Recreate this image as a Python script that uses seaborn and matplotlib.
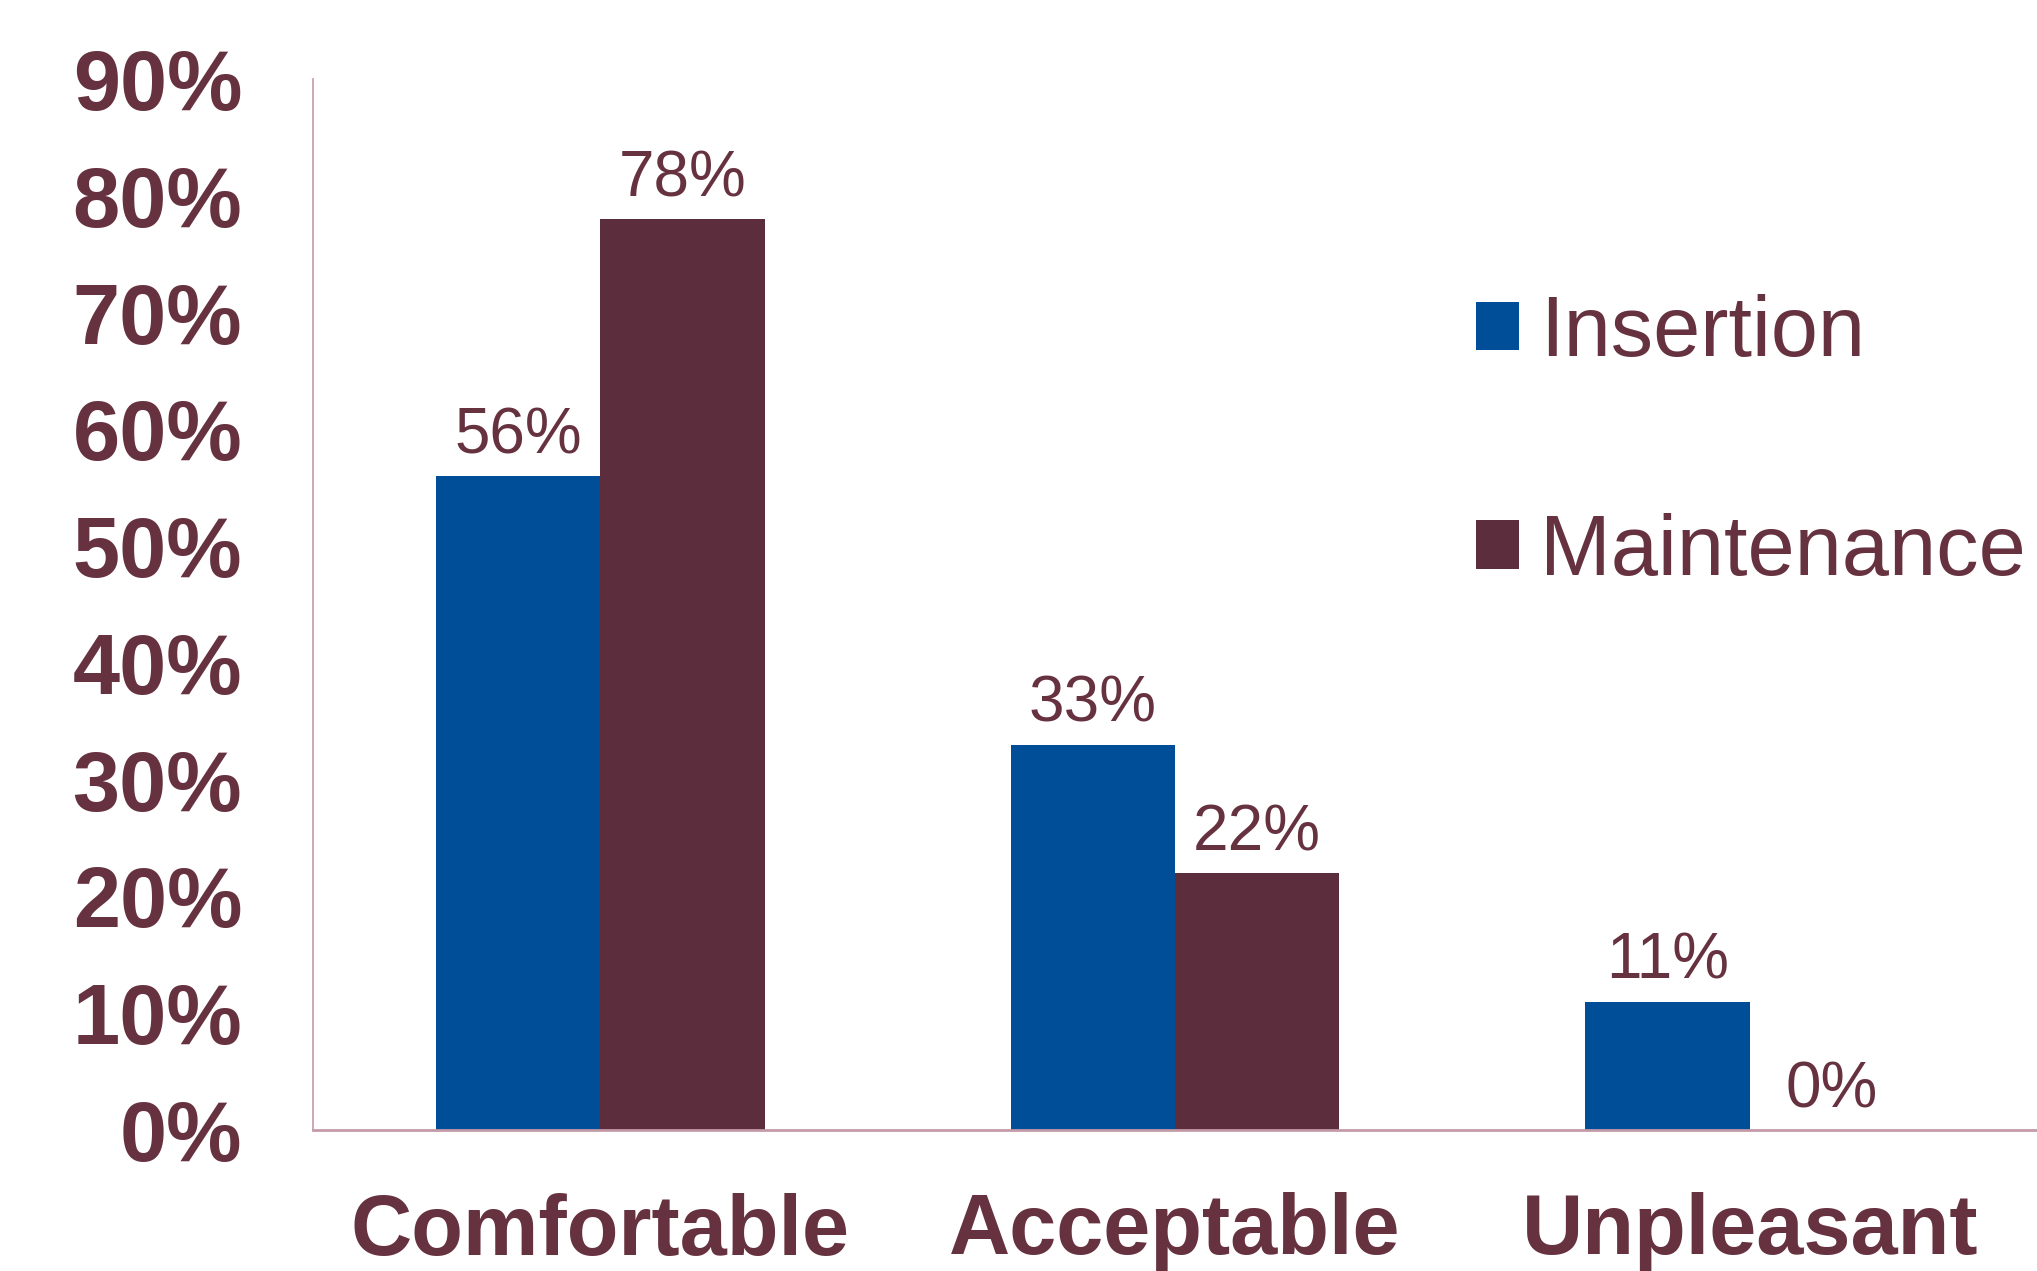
import matplotlib
matplotlib.use("Agg")
import matplotlib.pyplot as plt
from matplotlib.patches import Patch
from matplotlib.ticker import PercentFormatter
import seaborn as sns
import pandas as pd

# Comfort ratings reported for each procedure
categories = ["Comfortable", "Acceptable", "Unpleasant"]
insertion = [0.56, 0.33, 0.11]
maintenance = [0.78, 0.22, 0.00]
series_names = ["Insertion", "Maintenance"]
y_ticks = [0.0, 0.1, 0.2, 0.3, 0.4, 0.5, 0.6, 0.7, 0.8, 0.9]

BLUE = "#004E98"
MAROON = "#5C2D3C"
TEXT = "#67323F"
SPINE = "#C49AA9"

df = pd.DataFrame({
    "category": categories * 2,
    "series": [series_names[0]] * 3 + [series_names[1]] * 3,
    "share": insertion + maintenance,
})

sns.set_theme(style="white")
plt.rcParams["font.family"] = ["Liberation Sans", "DejaVu Sans"]

fig = plt.figure(figsize=(20.37, 12.71), dpi=100)
ax = fig.add_axes([313 / 2037, 1 - 1130 / 1271, 1 - 313 / 2037, (1130 - 79) / 1271])

sns.barplot(
    data=df, x="category", y="share", hue="series",
    order=categories, hue_order=series_names,
    palette=[BLUE, MAROON], width=0.572, gap=0, saturation=1,
    linewidth=0, ax=ax, legend=False,
)

for cont in ax.containers:
    ax.bar_label(cont, fmt=lambda v: f"{v * 100:.0f}%", padding=7,
                 fontsize=46, color=TEXT)

ax.set_ylim(0, 0.9)
ax.set_xlim(-0.5, 2.5)
ax.set_yticks(y_ticks)
ax.yaxis.set_major_formatter(PercentFormatter(1.0, decimals=0))
ax.set_xlabel("")
ax.set_ylabel("")
ax.tick_params(axis="y", length=0, pad=51, labelsize=61, labelcolor=TEXT)
ax.tick_params(axis="x", length=0, pad=45, labelsize=61, labelcolor=TEXT)
for lab in ax.get_yticklabels() + ax.get_xticklabels():
    lab.set_fontweight("bold")

for side in ("top", "right"):
    ax.spines[side].set_visible(False)
ax.spines["left"].set_color(SPINE)
ax.spines["left"].set_linewidth(1.2)
ax.spines["bottom"].set_color(SPINE)
ax.spines["bottom"].set_linewidth(2.0)

handles = [Patch(facecolor=BLUE, edgecolor="none"),
           Patch(facecolor=MAROON, edgecolor="none")]
leg = fig.legend(
    handles, series_names, loc="upper left",
    bbox_to_anchor=(1476 / 2037, 1 - 294 / 1271),
    frameon=False, fontsize=61, handlelength=0.51, handleheight=0.51,
    handletextpad=0.25, labelspacing=1.64, borderpad=0, borderaxespad=0,
)
for t in leg.get_texts():
    t.set_color(TEXT)

fig.savefig("out.png", dpi=100)
